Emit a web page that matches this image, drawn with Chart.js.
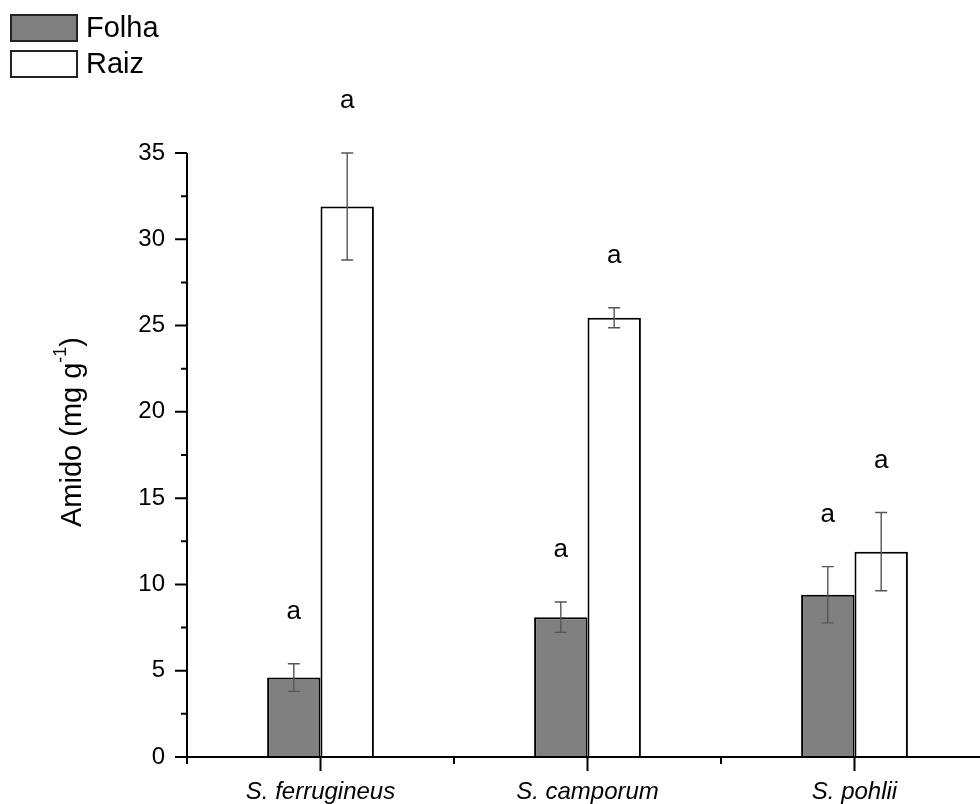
<!DOCTYPE html>
<html>
<head>
<meta charset="utf-8">
<script src="https://cdn.jsdelivr.net/npm/chart.js@4"></script>
<style>
  html, body { margin: 0; padding: 0; background: #fff; overflow: hidden; }
  #wrap { width: 1000px; height: 804px; }
</style>
</head>
<body>
<div id="wrap"><canvas id="c" width="1000" height="804"></canvas></div>
<script>
// categorias e séries (amido, mg g-1)
const species   = ['S. ferrugineus', 'S. camporum', 'S. pohlii'];
const folha     = [4.6, 8.1, 9.4];
const folhaErr  = [0.8, 0.88, 1.63];
const raiz      = [31.9, 25.45, 11.9];
const raizErr   = [3.1, 0.58, 2.27];
const folhaSig  = ['a', 'a', 'a'];
const raizSig   = ['a', 'a', 'a'];
const yTicks    = [0, 5, 10, 15, 20, 25, 30, 35];

const FONT = 'Liberation Sans, Arial, sans-serif';

// barras de erro + letras de significância
const errPlugin = {
  id: 'errBars',
  afterDatasetsDraw(chart) {
    const { ctx, scales: { y } } = chart;
    const errs = [folhaErr, raizErr];
    const sig = [folhaSig, raizSig];
    chart.data.datasets.forEach((ds, di) => {
      const meta = chart.getDatasetMeta(di);
      meta.data.forEach((bar, i) => {
        const v = ds.data[i], e = errs[di][i];
        const yt = y.getPixelForValue(v + e), yb = y.getPixelForValue(v - e);
        ctx.save();
        ctx.strokeStyle = '#555';
        ctx.lineWidth = 1.4;
        ctx.beginPath();
        ctx.moveTo(bar.x, yt); ctx.lineTo(bar.x, yb);
        ctx.moveTo(bar.x - 6, yt); ctx.lineTo(bar.x + 6, yt);
        ctx.moveTo(bar.x - 6, yb); ctx.lineTo(bar.x + 6, yb);
        ctx.stroke();
        ctx.fillStyle = '#000';
        ctx.font = '26px ' + FONT;
        ctx.textAlign = 'center';
        ctx.textBaseline = 'middle';
        ctx.fillText(sig[di][i], bar.x, yt - 52);
        ctx.restore();
      });
    });
  }
};

// eixos com ticks maiores e menores, título do eixo y e legenda
const axesPlugin = {
  id: 'axesTicks',
  afterDraw(chart) {
    const { ctx, chartArea: a, scales: { x, y } } = chart;
    ctx.save();
    ctx.strokeStyle = '#000';
    ctx.lineWidth = 2;
    ctx.beginPath();
    ctx.moveTo(a.left, a.top); ctx.lineTo(a.left, a.bottom);
    ctx.moveTo(a.left - 12, a.bottom); ctx.lineTo(chart.width, a.bottom);
    // y ticks
    for (let v = 0; v <= 35; v += 2.5) {
      const py = y.getPixelForValue(v);
      const len = v % 5 === 0 ? 12 : 6;
      ctx.moveTo(a.left - len, py); ctx.lineTo(a.left, py);
    }
    // x ticks
    const w = (a.right - a.left) / species.length;
    for (let i = 0; i <= species.length; i++) {
      const px = a.left + i * w;
      ctx.moveTo(px, a.bottom); ctx.lineTo(px, a.bottom + 7);
    }
    species.forEach((s, i) => {
      const px = x.getPixelForValue(i);
      ctx.moveTo(px, a.bottom); ctx.lineTo(px, a.bottom + 14);
    });
    ctx.stroke();

    // título do eixo y
    ctx.translate(73, 432);
    ctx.rotate(-Math.PI / 2);
    ctx.fillStyle = '#000';
    ctx.textBaseline = 'middle';
    const main = 'Amido (mg g', sup = '-1', end = ')';
    ctx.font = '29px ' + FONT;
    const w1 = ctx.measureText(main).width;
    ctx.font = '18px ' + FONT;
    const w2 = ctx.measureText(sup).width;
    ctx.font = '29px ' + FONT;
    const w3 = ctx.measureText(end).width;
    let sx = -(w1 + w2 + w3) / 2;
    ctx.textAlign = 'left';
    ctx.fillText(main, sx, 0); sx += w1;
    ctx.font = '18px ' + FONT;
    ctx.fillText(sup, sx, -12); sx += w2;
    ctx.font = '29px ' + FONT;
    ctx.fillText(end, sx, 0);
    ctx.restore();

    // legenda
    ctx.save();
    const items = [['Folha', '#808080', 15], ['Raiz', '#ffffff', 51]];
    ctx.font = '29px ' + FONT;
    ctx.textBaseline = 'middle';
    items.forEach(([lbl, col, top]) => {
      ctx.fillStyle = col;
      ctx.fillRect(11, top, 66, 26);
      ctx.strokeStyle = '#222';
      ctx.lineWidth = 2;
      ctx.strokeRect(11, top, 66, 26);
      ctx.fillStyle = '#000';
      ctx.fillText(lbl, 86, top + 14);
    });
    ctx.restore();
  }
};

new Chart(document.getElementById('c'), {
  type: 'bar',
  data: {
    labels: species,
    datasets: [
      { label: 'Folha', data: folha, backgroundColor: '#808080', borderColor: '#000', borderWidth: 2 },
      { label: 'Raiz', data: raiz, backgroundColor: '#ffffff', borderColor: '#000', borderWidth: 2 }
    ]
  },
  options: {
    responsive: false,
    animation: false,
    devicePixelRatio: 1,
    categoryPercentage: 0.4,
    barPercentage: 1,
    layout: { padding: { top: 153, right: 12, left: 0, bottom: 0 } },
    plugins: { legend: { display: false }, tooltip: { enabled: false } },
    scales: {
      x: {
        grid: { display: false },
        border: { display: false },
        ticks: { color: '#000', padding: 13, font: { family: FONT, size: 24, style: 'italic' } },
        afterFit: s => { s.height = 47; }
      },
      y: {
        min: 0, max: 35,
        grid: { display: false },
        border: { display: false },
        afterBuildTicks: s => { s.ticks = yTicks.map(v => ({ value: v })); },
        ticks: { color: '#000', padding: 14, font: { family: FONT, size: 24 } },
        afterFit: s => { s.width = 187; }
      }
    }
  },
  plugins: [errPlugin, axesPlugin]
});
</script>
</body>
</html>
